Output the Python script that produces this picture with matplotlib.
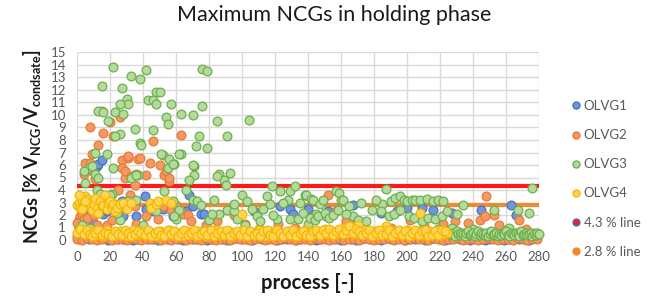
import matplotlib
matplotlib.use("Agg")
import matplotlib.pyplot as plt
from matplotlib.lines import Line2D

plt.rcParams['font.family'] = ['Lato', 'DejaVu Sans']

# ---------------- data ----------------
# OLVG1 (blue): scattered values and the low band (process step 3 from 1)
olvg1_x = [12, 13, 15, 3, 6, 8, 9, 11, 16, 18, 21, 25, 27, 28, 34, 36, 41, 42, 46, 52, 58,
           62, 66, 68, 70, 75, 77, 107, 123, 129, 131, 140, 152, 167, 184, 194, 200, 209,
           216, 227, 245, 263, 266]
olvg1_y = [5.9, 6.1, 6.4, 2.0, 2.4, 2.1, 1.6, 2.3, 2.1, 2.3, 2.9, 2.7, 3.1, 1.9, 3.1, 1.9, 3.5, 2.5, 2.3, 2.5, 1.9,
           2.3, 2.3, 3.6, 2.7, 2.1, 2.1, 2.3, 2.7, 2.5, 2.1, 2.5, 2.3, 2.8, 2.2, 2.3, 2.6, 2.6,
           2.4, 2.2, 2.4, 2.8, 2.0]
olvg1_band = [0.1, 0.2, 0.1, 0.3, 0.1, 0.2, 0.0, 0.2, 0.1, 0.1, 0.2, 0.0, 0.1, 0.2, 0.1, 0.1, 0.0, 0.2, 0.1, 0.2,
              0.1, 0.0, 0.2, 0.1, 0.1, 0.2, 0.0, 0.1, 0.2, 0.1, 0.0, 0.1, 0.2, 0.1, 0.1, 0.0, 0.2, 0.1, 0.1, 0.2,
              0.0, 0.1, 0.1, 0.2, 0.0, 0.1, 0.2, 0.1, 0.0, 0.1, 0.2, 0.1, 0.1, 0.0, 0.2, 0.1, 0.0, 0.1, 0.2, 0.1,
              0.1, 0.0, 0.2, 0.1, 0.1, 0.2, 0.0, 0.1, 0.1, 0.2, 0.0, 0.1, 0.2, 0.1, 0.0, 0.1, 0.2, 0.1, 0.1, 0.0,
              0.2, 0.1, 0.0, 0.1, 0.2, 0.1, 0.0, 0.1, 0.2, 0.1, 0.1, 0.0]

# OLVG2 (orange)
olvg2_x = [8, 15, 26, 16, 20, 22, 46, 63, 13, 9, 5, 8, 27, 31, 37, 44, 50, 27, 42, 11, 53, 56, 29, 35,
           31, 38, 29, 33, 36, 54, 56, 4, 7, 25, 23, 26, 32, 35, 52, 57, 60, 64, 67, 69, 36, 42, 49, 18,
           21, 1, 2, 3, 4, 6, 10, 12, 14, 0, 102, 122, 152, 163, 168, 202, 222, 237, 248, 244, 247, 253,
           256, 190, 85, 95, 78, 110, 132, 175, 260, 268, 272, 157, 210, 229, 1, 3, 0]
olvg2_y = [9.0, 10.3, 9.8, 8.6, 9.4, 8.3, 7.9, 8.4, 7.6, 6.9, 6.2, 6.2, 6.4, 6.6, 6.5, 6.2, 6.0, 5.8, 5.2, 4.9, 5.2, 4.7, 5.0, 4.4,
           6.7, 6.6, 5.5, 5.1, 5.3, 5.5, 5.0, 5.3, 5.6, 4.0, 2.9, 2.5, 3.6, 2.7, 2.7, 2.4, 2.8, 2.1, 2.0, 1.5, 1.3, 1.9, 1.7, 1.2,
           1.6, 1.6, 1.9, 2.0, 1.7, 1.8, 2.0, 1.2, 0.6, 0.3, 1.3, 1.3, 3.6, 1.5, 1.5, 1.6, 1.3, 1.4, 3.55, 1.6, 1.9, 2.0,
           1.2, 1.0, 1.5, 2.0, 1.2, 0.9, 1.0, 0.8, 0.8, 1.6, 0.9, 2.3, 1.1, 1.5, 1.1, 0.7, 1.4]
olvg2_band = [0.1, 0.0, 0.2, 0.1, 0.0, 0.1, 0.2, 0.0, 0.1, 0.1, 0.0, 0.2, 0.1, 0.0, 0.1, 0.1, 0.2, 0.0, 0.1, 0.0,
              0.1, 0.2, 0.0, 0.1, 0.1, 0.0, 0.2, 0.1, 0.0, 0.1, 0.1, 0.0, 0.2, 0.1, 0.1, 0.0, 0.1, 0.2, 0.0, 0.1,
              0.0, 0.1, 0.2, 0.1, 0.0, 0.1, 0.1, 0.0, 0.2, 0.1, 0.1, 0.0, 0.1, 0.2, 0.0, 0.1, 0.1, 0.0, 0.2, 0.1,
              0.0, 0.1, 0.1, 0.2, 0.0, 0.1, 0.0, 0.1, 0.2, 0.1, 0.1, 0.0, 0.2, 0.1, 0.0, 0.1, 0.1, 0.2, 0.0, 0.1,
              0.1, 0.0, 0.1, 0.2, 0.1, 0.0, 0.1, 0.1, 0.0, 0.2, 0.1, 0.0, 0.1, 0.1]

# OLVG3 (green)
olvg3_x = [22, 42, 76, 79, 33, 38, 15, 27, 48, 50, 43, 46, 30, 31, 26, 48, 57, 76, 13, 16, 23, 28, 63, 70,
           54, 55, 19, 85, 104, 35, 46, 26, 23, 74, 91, 38, 39, 72, 79, 11, 18, 63, 52, 56, 59, 22, 55, 71,
           7, 4, 11, 93, 86, 71, 89, 90, 33, 37, 68, 51, 62, 58, 70, 9, 13, 5, 36, 85,
           1, 2, 3, 15, 21, 31, 36, 48, 58, 60, 62, 70, 73, 75, 83, 86, 91, 95, 95, 100, 103, 102, 106, 109,
           26, 40, 44, 66, 80, 97, 8, 12, 24, 53, 14, 20, 19, 59, 82,
           111, 115, 118, 121, 123, 128, 129, 129, 132, 134, 138, 139, 140, 142, 143, 145, 147, 149, 151, 157,
           159, 160, 161, 165, 167, 137, 141, 144, 146, 150, 153, 155, 158, 163, 175, 179, 185, 187, 190, 193,
           196, 198, 200, 203, 205, 208, 212, 216, 219, 222, 184, 189, 192, 196, 201, 204, 209, 213, 217, 221,
           224, 230, 234, 219, 253, 267, 274, 276, 113, 117, 125, 170, 172, 181, 119, 135, 227, 240, 262]
olvg3_y = [13.8, 13.6, 13.7, 13.5, 13.1, 12.9, 12.3, 12.2, 11.8, 11.8, 11.2, 11.2, 11.3, 10.9, 10.9, 10.9, 10.9, 10.7, 10.3, 10.2, 10.2, 10.1, 10.1, 10.0,
           9.8, 9.3, 9.5, 9.5, 9.6, 8.9, 8.8, 8.5, 8.3, 8.3, 8.3, 7.8, 7.6, 7.5, 7.4, 7.0, 6.9, 6.9, 6.8, 6.5, 6.1, 5.8, 5.8, 5.9,
           5.8, 5.5, 5.3, 5.4, 5.3, 5.2, 4.8, 4.4, 5.0, 5.2, 4.8, 6.9, 6.9, 6.1, 6.0, 5.9, 5.0, 4.6, 5.2, 5.1,
           0.9, 0.6, 1.2, 3.6, 3.7, 3.1, 3.2, 2.3, 3.1, 1.7, 2.4, 3.2, 3.1, 2.8, 3.2, 2.1, 2.4, 2.3, 2.9, 3.6, 3.1, 1.2, 2.5, 1.9,
           1.6, 1.2, 2.8, 4.0, 1.6, 1.7, 1.0, 4.0, 2.2, 3.9, 3.7, 3.6, 2.7, 1.9, 2.1,
           1.5, 3.5, 4.3, 1.7, 3.9, 3.2, 3.9, 1.7, 4.3, 1.7, 3.6, 3.6, 1.3, 3.3, 3.2, 2.1, 2.9, 3.2, 1.9, 3.9,
           3.8, 3.2, 3.2, 2.7, 1.9, 2.2, 1.8, 1.6, 1.9, 2.2, 1.8, 2.0, 2.4, 2.1, 1.5, 2.4, 2.9, 4.1, 3.1, 3.4,
           3.5, 3.2, 3.1, 3.2, 3.2, 3.2, 3.3, 3.1, 3.2, 3.1, 2.3, 1.9, 2.1, 2.4, 1.9, 1.8, 1.5, 1.8, 1.7, 1.9,
           2.3, 2.1, 2.8, 0.9, 2.4, 2.4, 2.2, 4.2, 2.5, 2.9, 3.0, 1.6, 3.0, 3.2, 2.0, 3.0, 1.0, 0.9, 1.0]
olvg3_band = [0.5, 0.4, 0.6, 0.3, 0.7, 0.5, 0.4, 0.6, 0.5, 0.3, 0.6, 0.7, 0.4, 0.5, 0.6, 0.3, 0.5, 0.7, 0.4, 0.6,
              0.5, 0.4, 0.6, 0.3, 0.5, 0.7, 0.4, 0.5, 0.6, 0.3, 0.5, 0.4, 0.6, 0.5, 0.7, 0.4, 0.3, 0.6, 0.5, 0.4,
              0.6, 0.5, 0.3, 0.7, 0.4, 0.5, 0.6, 0.4, 0.5, 0.6, 0.3, 0.5, 0.4, 0.6, 0.5]

# OLVG4 (yellow)
olvg4_x = [0, 1, 2, 3, 4, 5, 6, 7, 8, 9, 10, 11, 12, 13, 14, 15, 16, 17, 18, 19, 20, 21, 22, 23, 24, 26, 28,
           30, 33, 44, 45, 48, 49, 54, 57, 100, 208, 0, 2, 4, 6, 187, 1, 3, 5]
olvg4_y = [2.8, 3.0, 2.6, 3.2, 2.9, 3.5, 3.3, 2.7, 3.0, 2.4, 2.9, 3.4, 2.6, 2.2, 3.1, 2.7, 2.8, 3.6, 2.5, 3.0, 3.1, 2.6, 2.9, 2.3, 2.6, 2.9, 3.0,
           2.5, 3.0, 3.0, 2.6, 2.9, 3.1, 3.2, 3.0, 2.1, 2.2, 0.6, 0.9, 0.5, 0.8, 1.1, 3.6, 2.5, 3.1]
olvg4_band = [0.5, 0.7, 0.4, 0.6, 0.3, 0.8, 0.5, 0.6, 0.4, 0.7, 0.5, 0.3, 0.6, 0.8, 0.4, 0.5, 0.7, 0.4, 0.6, 0.5,
              0.3, 0.7, 0.5, 0.6, 0.8, 0.4, 0.5, 0.6, 0.3, 0.7, 0.5, 0.4, 0.6, 0.7, 0.5, 0.3, 0.6, 0.5, 0.8, 0.4,
              0.6, 0.5, 0.7, 0.3, 0.5, 0.6, 0.4, 0.7, 0.5, 0.6, 0.4, 0.8, 0.5, 0.3, 0.6, 0.7, 0.5, 0.4, 0.6, 0.5,
              0.7, 0.4, 0.6, 0.3, 0.5, 0.8, 0.6, 0.4, 0.5, 0.7, 0.6, 0.9, 0.5, 0.7, 0.4, 0.6, 0.8, 1.0, 0.6, 0.9,
              0.5, 1.2, 0.7, 0.8, 0.6, 0.5, 0.7, 0.4, 0.6, 0.8, 0.5, 0.6, 0.4, 0.7, 0.5, 0.6, 0.8, 0.4, 0.5, 0.7,
              0.6, 0.4, 0.5, 0.7, 0.5, 0.6, 0.4, 0.5, 0.6]
olvg4_band2 = [0.3, 0.6, 0.8, 0.4, 0.6, 0.5, 0.3, 0.7, 0.5, 0.4, 0.8, 0.6, 0.3, 0.5, 0.7, 0.6, 0.4, 0.8, 0.3, 0.6,
               0.7, 0.4, 0.3, 0.8, 0.5, 0.7, 0.3, 0.6, 0.8, 0.4, 0.6, 0.8, 0.3, 0.5, 0.7, 0.4, 0.8, 0.3, 0.6, 0.7,
               0.4, 0.8, 0.3, 0.6, 0.7, 0.4, 0.8, 0.3, 0.7, 0.4, 0.6, 0.3, 0.7, 0.8, 0.4, 0.3, 0.8, 0.6, 0.3, 0.7,
               0.4, 0.8, 0.3, 0.6, 0.7, 0.4, 0.3, 0.7, 0.8, 0.4, 0.8, 0.6, 0.9, 0.4, 0.7, 0.9, 0.5, 0.8, 1.1, 0.6,
               0.9, 0.7, 0.4, 0.6, 0.8, 0.3, 0.6, 0.8, 0.4, 0.5, 0.8, 0.3, 0.6, 0.8, 0.4, 0.7, 0.3, 0.6, 0.8, 0.4,
               0.7, 0.8, 0.3, 0.4, 0.7, 0.4, 0.8, 0.7]

# reference lines
line_x = [0, 280]
line43_y = [4.3, 4.3]
line28_y = [2.8, 2.8]

series_names = ["OLVG1", "OLVG2", "OLVG3", "OLVG4", "4.3 % line", "2.8 % line"]
x_ticks = list(range(0, 281, 20))
y_ticks = list(range(0, 16))


def band_x(start, step, values):
    return list(range(start, start + step * len(values), step))


# ---------------- styles ----------------
C_BLUE = ("#6F96D8", "#4472C4")
C_ORANGE = ("#F39A62", "#E97A36")
C_GREEN = ("#B4DA9E", "#6DAF4A")
C_YELLOW = ("#FFD454", "#F4B800")
C_RED = "#FF1A1A"
C_OLINE = "#F08A30"

fig = plt.figure(figsize=(6.61, 3.06), dpi=100)
ax = fig.add_axes([77 / 661, 1 - 240 / 306, (539 - 77) / 661, (240 - 52.5) / 306])

ax.plot(line_x, line43_y, color=C_RED, lw=3.0, zorder=2, solid_capstyle='butt')
ax.plot(line_x, line28_y, color=C_OLINE, lw=3.0, zorder=2, solid_capstyle='butt')

ms = 40
elw = 0.9
groups = [
    (olvg1_x + band_x(1, 3, olvg1_band), olvg1_y + olvg1_band, C_BLUE),
    (olvg2_x + band_x(0, 3, olvg2_band), olvg2_y + olvg2_band, C_ORANGE),
    (olvg3_x + band_x(226, 1, olvg3_band), olvg3_y + olvg3_band, C_GREEN),
    (olvg4_x + band_x(8, 2, olvg4_band) + band_x(9, 2, olvg4_band2),
     olvg4_y + olvg4_band + olvg4_band2, C_YELLOW),
]
for i, (xs, ys, (fc, ec)) in enumerate(groups):
    ax.scatter(xs, ys, s=ms, facecolor=fc, edgecolor=ec, linewidths=elw,
               zorder=3 + i, clip_on=False)

ax.set_xlim(0, 280)
ax.set_ylim(0, 15)
ax.set_xticks(x_ticks)
ax.set_yticks(y_ticks)
ax.grid(True, color="#D9D9D9", lw=1.0, zorder=0)
ax.set_axisbelow(True)
for s in ax.spines.values():
    s.set_visible(False)
ax.tick_params(length=0, labelsize=9.5, labelcolor="#595959", pad=8)

ax.set_xlabel("process [-]", fontsize=14.5, fontweight='bold', color="#1a1a1a", labelpad=7)
ax.set_ylabel(r"NCGs [% V$_{\mathregular{NCG}}$/V$_{\mathregular{condsate}}$]", fontsize=13,
              fontweight='bold', color="#1a1a1a", labelpad=5)
fig.suptitle("Maximum NCGs in holding phase", x=0.505, y=0.985, fontsize=15.5, color="#1a1a1a")

handles = [
    Line2D([], [], ls='none', marker='o', ms=5, mfc=C_BLUE[0], mec=C_BLUE[1]),
    Line2D([], [], ls='none', marker='o', ms=5, mfc=C_ORANGE[0], mec=C_ORANGE[1]),
    Line2D([], [], ls='none', marker='o', ms=5, mfc=C_GREEN[0], mec=C_GREEN[1]),
    Line2D([], [], ls='none', marker='o', ms=5, mfc=C_YELLOW[0], mec=C_YELLOW[1]),
    Line2D([], [], ls='none', marker='o', ms=5, mfc=C_RED, mec=C_BLUE[1]),
    Line2D([], [], ls='none', marker='o', ms=5, mfc=C_OLINE, mec=C_OLINE),
]
leg = fig.legend(handles, series_names, loc='upper left', bbox_to_anchor=(572 / 661, 1 - 100 / 306),
                 frameon=False, fontsize=9.5, handlelength=0.6, handletextpad=0.3,
                 labelspacing=1.3, borderaxespad=0, borderpad=0)
for t in leg.get_texts():
    t.set_color("#595959")

fig.savefig("out.png", dpi=100)
